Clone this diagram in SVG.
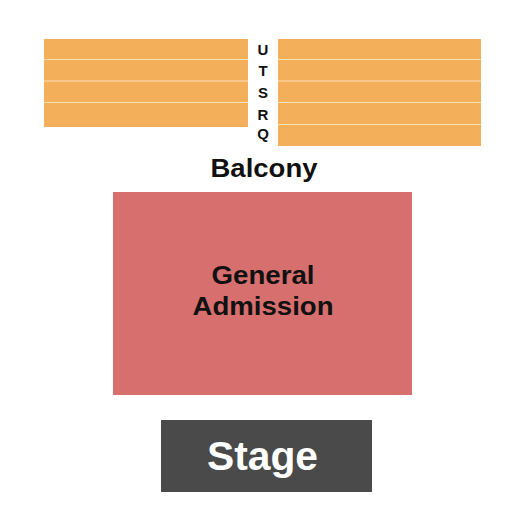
<svg xmlns="http://www.w3.org/2000/svg" width="525" height="525" viewBox="0 0 525 525">
<style>
.row{fill:#f4af5b}
.sep{stroke:#fbe0b8;stroke-width:1.2}
.lbl{font-family:"Liberation Sans",Arial,sans-serif;font-weight:bold;fill:#111;text-anchor:middle}
</style>
<rect width="525" height="525" fill="#fff"/>
<g id="balcony">
<rect class="row" x="44" y="39" width="204" height="88"/>
<rect class="row" x="278" y="39" width="203" height="107"/>
<g class="sep">
<line x1="44" y1="59.5" x2="248" y2="59.5"/>
<line x1="44" y1="81" x2="248" y2="81"/>
<line x1="44" y1="102.5" x2="248" y2="102.5"/>
<line x1="278" y1="59.5" x2="481" y2="59.5"/>
<line x1="278" y1="81" x2="481" y2="81"/>
<line x1="278" y1="102.5" x2="481" y2="102.5"/>
<line x1="278" y1="124.5" x2="481" y2="124.5"/>
</g>
<g class="lbl" font-size="15">
<text x="263" y="54.5">U</text>
<text x="263" y="76">T</text>
<text x="263" y="98">S</text>
<text x="263" y="119.5">R</text>
<text x="263" y="139">Q</text>
</g>
<text class="lbl" x="264" y="177" font-size="25" textLength="107" lengthAdjust="spacingAndGlyphs">Balcony</text>
</g>
<g id="general-admission">
<rect x="113" y="192" width="299" height="203" fill="#d76f6e"/>
<text class="lbl" x="263" y="284" font-size="25" textLength="103" lengthAdjust="spacingAndGlyphs">General</text>
<text class="lbl" x="263" y="315" font-size="25" textLength="141" lengthAdjust="spacingAndGlyphs">Admission</text>
</g>
<g id="stage">
<rect x="161" y="420" width="211" height="72" fill="#4a4a4a"/>
<text class="lbl" x="262.5" y="470" font-size="41" style="fill:#fff" textLength="111" lengthAdjust="spacingAndGlyphs">Stage</text>
</g>
<g id="connectors"/>
</svg>
